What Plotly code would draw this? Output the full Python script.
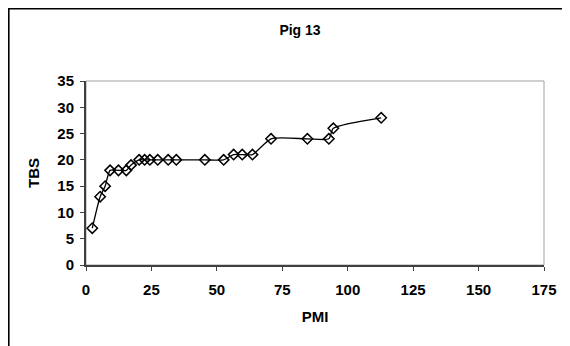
import plotly.graph_objects as go

# Pig 13: TBS against PMI
pmi = [2.4, 5.4, 7.3, 9.2, 12.4, 15.4, 17.2, 20.3, 22.4, 24.4, 27.4, 31.4, 34.5,
       45.4, 52.6, 56.4, 59.7, 63.6, 70.7, 84.6, 92.8, 94.5, 112.8]
tbs = [7, 13, 15, 18, 18, 18, 19, 20, 20, 20, 20, 20, 20,
       20, 20, 21, 21, 21, 24, 24, 24, 26, 28]
x_ticks = [0, 25, 50, 75, 100, 125, 150, 175]
y_ticks = [0, 5, 10, 15, 20, 25, 30, 35]

fig = go.Figure(data=[
    go.Scatter(
        x=pmi,
        y=tbs,
        mode="lines+markers",
        line=dict(color="black", width=1.3, shape="spline", smoothing=0.6),
        marker=dict(symbol="diamond-open", size=8, color="black", line=dict(width=1.5)),
        cliponaxis=False,
        showlegend=False
    )
])

font = "Liberation Sans, Arial, sans-serif"
# page body has an 8px margin, so positions are shifted back by 8px
L, R, T, B = 78, 34, 73, 89
pw = 570 - L - R
ph = 346 - T - B

fig.update_layout(
    width=570, height=346,
    margin=dict(l=L, r=R, t=T, b=B),
    paper_bgcolor="white",
    plot_bgcolor="white",
    title=dict(text="<b>Pig 13</b>", x=292 / 570, xanchor="center",
               y=1 - 22 / 346, yanchor="middle",
               font=dict(family=font, size=14, color="black")),
    font=dict(family=font, color="black"),
    xaxis=dict(
        range=[0, 175], tickvals=x_ticks, ticktext=["<b>%d</b>" % v for v in x_ticks],
        showgrid=False, zeroline=False,
        showline=True, linecolor="#404040", linewidth=2,
        ticks="outside", ticklen=4, tickcolor="#404040",
        tickfont=dict(size=15), ticklabelstandoff=6,
        title=dict(text="<b>PMI</b>", font=dict(size=15), standoff=14)
    ),
    yaxis=dict(
        range=[0, 35], tickvals=y_ticks, ticktext=["<b>%d</b>" % v for v in y_ticks],
        showgrid=False, zeroline=False,
        showline=True, linecolor="#404040", linewidth=2,
        ticks="outside", ticklen=4, tickcolor="#404040",
        tickfont=dict(size=15), ticklabelstandoff=3,
        title=dict(text="<b>TBS</b>", font=dict(size=15), standoff=14)
    ),
    shapes=[
        # plot area border
        dict(type="rect", xref="paper", yref="paper", x0=0, y0=0, x1=1, y1=1,
             line=dict(color="#a0a0a0", width=1), layer="below"),
        # chart area border
        dict(type="rect", xref="paper", yref="paper",
             x0=(0.8 - L) / pw, x1=(600 - L) / pw,
             y0=-(B + 30) / ph, y1=(ph + T - 0.8) / ph,
             line=dict(color="black", width=1.6))
    ]
)

fig.write_html("out.html")
